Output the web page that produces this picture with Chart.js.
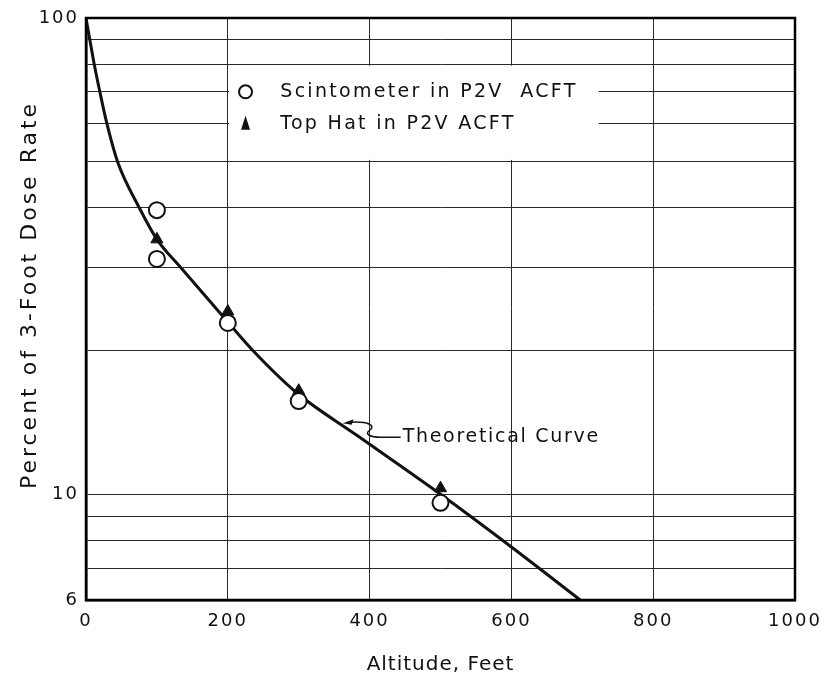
<!DOCTYPE html>
<html>
<head>
<meta charset="utf-8">
<script src="https://cdn.jsdelivr.net/npm/chart.js@4/dist/chart.umd.min.js"></script>
<style>
    html, body { margin: 0; padding: 0; background: #fff; }
    #wrap { width: 821px; height: 684px; }
</style>
</head>
<body>
<div id="wrap"><canvas id="graphCanvas" width="821" height="684"></canvas></div>
<script>
// altitude (feet) and percent values
var scintAlt = [100, 100, 200, 300, 500];
var scintPct = [39.5, 31.2, 22.9, 15.7, 9.6];

var topHatAlt = [100, 200, 300, 500];
var topHatPct = [34.3, 24.2, 16.5, 10.3];

var curveAlt = [0, 5.4, 11.6, 19.5, 29.5, 44.4, 75, 100, 133, 200, 236, 298, 382, 500, 600, 697];
var curvePct = [100, 90, 80, 70, 60, 50, 40, 34.3, 30, 23.0, 20, 16.3, 13.3, 10, 7.75, 6];

var xTicks = [0, 200, 400, 600, 800, 1000];
var yGridValues = [6, 7, 8, 9, 10, 20, 30, 40, 50, 60, 70, 80, 90, 100];
var yLabelValues = [6, 10, 100];

var legendLabels = ['Scintometer in P2V  ACFT', 'Top Hat in P2V ACFT'];
var curveLabel = 'Theoretical Curve';
var xTitle = 'Altitude, Feet';
var yTitle = 'Percent of 3-Foot Dose Rate';

var fontName = '"DejaVu Sans", sans-serif';

function toPoints(xs, ys) {
    var pts = [];
    for (var i in xs) {
        pts.push({ x: xs[i], y: ys[i] });
    }
    return pts;
}

var extras = {
    id: 'extras',
    beforeDraw: function (chart) {
        // wide lettering for the tick labels
        chart.ctx.letterSpacing = '2px';
    },
    afterDatasetsDraw: function (chart) {
        var ctx = chart.ctx;
        var xs = chart.scales.x;
        var ys = chart.scales.y;
        var area = chart.chartArea;

        ctx.save();

        // blank panel for the key, between the 80 and 50 lines
        var bx0 = xs.getPixelForValue(200) + 1.5;
        var bx1 = xs.getPixelForValue(723);
        var by0 = ys.getPixelForValue(80) + 1.5;
        var by1 = ys.getPixelForValue(50) - 1.5;
        ctx.fillStyle = '#fff';
        ctx.fillRect(bx0, by0, bx1 - bx0, by1 - by0);

        // key entries
        var rowY = [ys.getPixelForValue(70), ys.getPixelForValue(60)];
        var mx = xs.getPixelForValue(225);
        var tx = xs.getPixelForValue(274);
        ctx.fillStyle = '#111';
        ctx.strokeStyle = '#111';
        ctx.font = '19px ' + fontName;
        ctx.letterSpacing = '2.3px';
        ctx.textBaseline = 'middle';
        ctx.textAlign = 'left';

        ctx.lineWidth = 2;
        ctx.beginPath();
        ctx.arc(mx, rowY[0], 6.5, 0, Math.PI * 2);
        ctx.stroke();
        ctx.fillText(legendLabels[0], tx, rowY[0]);

        ctx.beginPath();
        ctx.moveTo(mx, rowY[1] - 8);
        ctx.lineTo(mx + 4.5, rowY[1] + 6);
        ctx.lineTo(mx - 4.5, rowY[1] + 6);
        ctx.closePath();
        ctx.fill();
        ctx.fillText(legendLabels[1], tx, rowY[1]);

        // label and leader for the theoretical curve
        var ax = xs.getPixelForValue(362);
        var ay = ys.getPixelForValue(14.1);
        ctx.lineWidth = 1.5;
        ctx.beginPath();
        ctx.moveTo(ax, ay);
        ctx.lineTo(ax + 11, ay - 4);
        ctx.lineTo(ax + 9, ay + 1.5);
        ctx.closePath();
        ctx.fill();
        ctx.beginPath();
        ctx.moveTo(ax + 9, ay - 1);
        ctx.bezierCurveTo(ax + 24, ay - 2, ax + 34, ay + 2, ax + 27, ay + 7);
        ctx.bezierCurveTo(ax + 21, ay + 11, ax + 28, ay + 14, ax + 38, ay + 14);
        ctx.lineTo(ax + 58, ay + 14);
        ctx.stroke();
        ctx.font = '19px ' + fontName;
        ctx.letterSpacing = '1.7px';
        ctx.fillText(curveLabel, ax + 60, ay + 14);

        // heavy frame
        ctx.lineWidth = 2.5;
        ctx.strokeStyle = '#000';
        ctx.strokeRect(area.left, area.top, area.right - area.left, area.bottom - area.top);

        // axis titles
        ctx.fillStyle = '#111';
        ctx.textAlign = 'center';
        ctx.textBaseline = 'middle';
        ctx.font = '20px ' + fontName;
        ctx.letterSpacing = '1px';
        ctx.fillText(xTitle, (area.left + area.right) / 2, 665);

        ctx.translate(30, 295);
        ctx.rotate(-Math.PI / 2);
        ctx.font = '22px ' + fontName;
        ctx.letterSpacing = '3px';
        ctx.fillText(yTitle, 0, 0);

        ctx.restore();
    }
};

var chartdata = {
    datasets: [
        {
            label: legendLabels[0],
            data: toPoints(scintAlt, scintPct),
            showLine: false,
            pointStyle: 'circle',
            pointRadius: 8,
            pointBackgroundColor: '#fff',
            pointBorderColor: '#111',
            pointBorderWidth: 2,
            order: 0
        },
        {
            label: legendLabels[1],
            data: toPoints(topHatAlt, topHatPct),
            showLine: false,
            pointStyle: 'triangle',
            pointRadius: 7,
            pointBackgroundColor: '#111',
            pointBorderColor: '#111',
            pointBorderWidth: 1,
            order: 1
        },
        {
            label: curveLabel,
            data: toPoints(curveAlt, curvePct),
            showLine: true,
            borderColor: '#111',
            borderWidth: 3,
            pointRadius: 0,
            cubicInterpolationMode: 'monotone',
            order: 2
        }
    ]
};

var graphTarget = document.getElementById('graphCanvas');

var scatterGraph = new Chart(graphTarget, {
    type: 'scatter',
    data: chartdata,
    plugins: [extras],
    options: {
        responsive: false,
        animation: false,
        layout: { padding: { top: 18, right: 26, bottom: 0, left: 0 } },
        plugins: {
            legend: { display: false },
            tooltip: { enabled: false }
        },
        scales: {
            x: {
                type: 'linear',
                min: 0,
                max: 1000,
                afterBuildTicks: function (axis) {
                    axis.ticks = xTicks.map(function (v) { return { value: v }; });
                },
                afterFit: function (axis) {
                    axis.height = 84;
                    axis.paddingLeft = 0;
                    axis.paddingRight = 0;
                },
                grid: { color: '#2a2a2a', lineWidth: 1, drawTicks: false },
                border: { display: true, color: '#000', width: 2.5 },
                ticks: {
                    color: '#111',
                    padding: 11,
                    maxRotation: 0,
                    autoSkip: false,
                    font: { family: fontName, size: 18 },
                    callback: function (value) { return String(value); }
                },
                title: { display: false }
            },
            y: {
                type: 'logarithmic',
                min: 6,
                max: 100,
                afterBuildTicks: function (axis) {
                    axis.ticks = yGridValues.map(function (v) { return { value: v }; });
                },
                afterFit: function (axis) {
                    axis.width = 86;
                    axis.paddingTop = 0;
                    axis.paddingBottom = 0;
                },
                grid: { color: '#2a2a2a', lineWidth: 1, drawTicks: false },
                border: { display: true, color: '#000', width: 2.5 },
                ticks: {
                    color: '#111',
                    padding: 7,
                    autoSkip: false,
                    font: { family: fontName, size: 18 },
                    callback: function (value) {
                        return yLabelValues.indexOf(value) >= 0 ? String(value) : '';
                    }
                },
                title: { display: false }
            }
        }
    }
});
</script>
</body>
</html>
